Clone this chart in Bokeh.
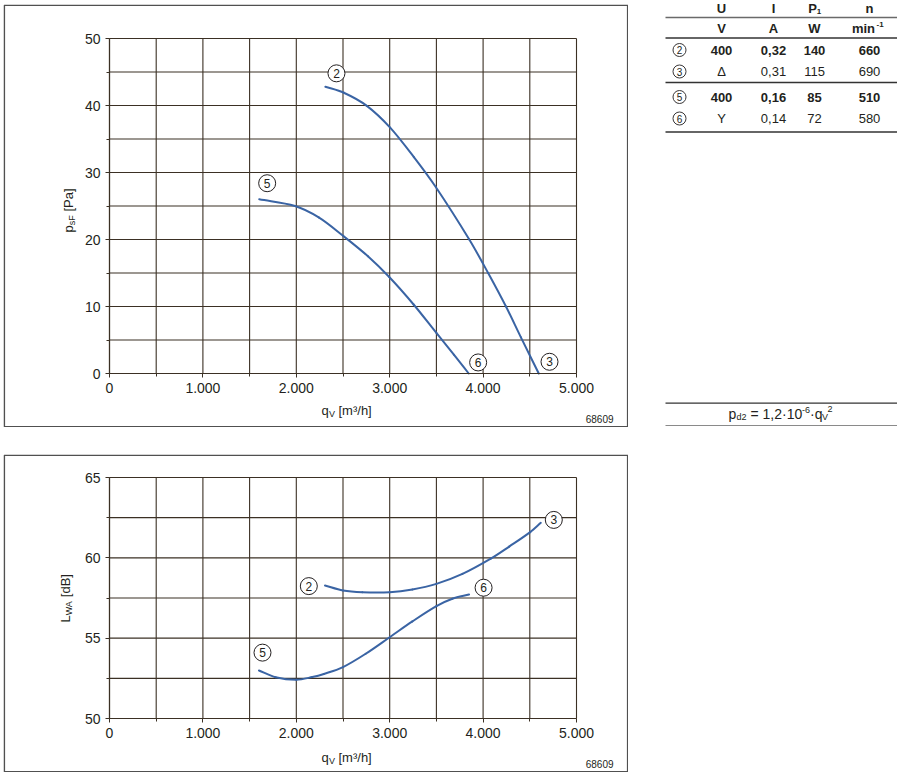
import math
from bokeh.plotting import figure
from bokeh.models import Range1d, FixedTicker, Label, BoxAnnotation
from bokeh.layouts import row, column
from bokeh.embed import file_html
from bokeh.resources import INLINE
from bokeh.core.properties import value

# ---------------- data ----------------
x_ticks = [0, 1000, 2000, 3000, 4000, 5000]
x_minor = [500, 1500, 2500, 3500, 4500]
x_tick_labels = ["0", "1.000", "2.000", "3.000", "4.000", "5.000"]

p_ticks = [0, 10, 20, 30, 40, 50]
p_minor = [5, 15, 25, 35, 45]
p_tick_labels = ["0", "10", "20", "30", "40", "50"]

L_ticks = [50, 55, 60, 65]
L_minor = [52.5, 57.5, 62.5]
L_tick_labels = ["50", "55", "60", "65"]

# pressure curves (q in m3/h, p in Pa)
q_curve_2_3 = [2311, 2509, 2755, 3005, 3259, 3495, 3852, 4054, 4245, 4405, 4596]
p_curve_2_3 = [42.8, 41.9, 39.95, 36.7, 32.3, 27.8, 20.0, 15.0, 10.0, 5.4, 0.0]
q_curve_5_6 = [1603, 1986, 2240, 2501, 2767, 2995, 3256, 3500, 3687, 3846]
p_curve_5_6 = [26.0, 25.0, 23.3, 20.55, 17.5, 14.4, 10.3, 6.05, 2.8, 0.0]

# sound power curves (q in m3/h, L in dB)
q_sound_2_3 = [2307, 2500, 2707, 3000, 3243, 3500, 3779, 4082, 4279, 4504, 4618]
L_sound_2_3 = [58.28, 57.97, 57.86, 57.86, 58.03, 58.38, 59.0, 59.95, 60.7, 61.6, 62.18]
q_sound_5_6 = [1600, 1779, 2000, 2171, 2295, 2500, 2743, 3000, 3243, 3500, 3671, 3850]
L_sound_5_6 = [52.99, 52.57, 52.41, 52.58, 52.77, 53.2, 54.03, 55.06, 56.04, 56.99, 57.45, 57.72]

# operating point markers
press_marks = ["2", "5", "6", "3"]
press_mark_q = [2430, 1688, 3947, 4711]
press_mark_p = [44.8, 28.4, 1.65, 1.75]
sound_marks = ["2", "3", "6", "5"]
sound_mark_q = [2134, 4757, 4005, 1638]
sound_mark_L = [58.24, 62.36, 58.14, 54.1]

# table
table_headers = ["U", "I", "P", "n"]
table_units = ["V", "A", "W", "min"]
table_marks = ["2", "3", "5", "6"]
table_U = ["400", "Δ", "400", "Y"]
table_I = ["0,32", "0,31", "0,16", "0,14"]
table_P = ["140", "115", "85", "72"]
table_n = ["660", "690", "510", "580"]
table_bold = [True, False, True, False]
drawing_no = "68609"

# ---------------- style ----------------
FONT = "Liberation Sans"
TXT = "#231f20"
GRID = "#3b3024"
CURVE = "#3a64a4"
BOX = "#505050"

FIG_W = 625
PAD_L, PAD_R = 106, 52          # pixels left / right of the plotting area
PAGE_LEFT = 3
X0, X1 = x_ticks[0], x_ticks[-1]


def make_chart(height, yt, ymin, ylabels, pad_top, pad_bottom):
    y0, y1 = yt[0], yt[-1]
    area_w = FIG_W - PAD_L - PAD_R
    area_h = height - pad_top - pad_bottom
    kx = (X1 - X0) / area_w
    ky = (y1 - y0) / area_h
    p = figure(width=FIG_W, height=height,
               x_range=Range1d(X0 - PAD_L * kx, X1 + PAD_R * kx),
               y_range=Range1d(y0 - pad_bottom * ky, y1 + pad_top * ky),
               output_backend="svg", toolbar_location=None,
               min_border=0, min_border_left=0, min_border_right=0,
               min_border_top=0, min_border_bottom=0)
    p.outline_line_color = None
    p.background_fill_color = "white"
    p.border_fill_color = "white"
    p.grid.visible = False
    # grid lines of the diagram
    xs_all = x_ticks + x_minor
    ys_all = yt + ymin
    p.segment(x0=xs_all, y0=[y0] * len(xs_all), x1=xs_all, y1=[y1] * len(xs_all),
              line_color=GRID, line_width=1.1)
    p.segment(x0=[X0] * len(ys_all), y0=ys_all, x1=[X1] * len(ys_all), y1=ys_all,
              line_color=GRID, line_width=1.1)
    # axes drawn at the diagram's edges
    p.xaxis.fixed_location = y0
    p.yaxis.fixed_location = X0
    p.xaxis.bounds = (X0, X1)
    p.yaxis.bounds = (y0, y1)
    p.xaxis.ticker = FixedTicker(ticks=x_ticks, minor_ticks=x_minor)
    p.yaxis.ticker = FixedTicker(ticks=yt, minor_ticks=ymin)
    p.xaxis.major_label_overrides = {t: s for t, s in zip(x_ticks, x_tick_labels)}
    p.yaxis.major_label_overrides = {t: s for t, s in zip(yt, ylabels)}
    for ax in (p.xaxis, p.yaxis):
        ax.axis_line_color = GRID
        ax.axis_line_width = 1.2
        ax.major_tick_line_color = GRID
        ax.minor_tick_line_color = GRID
        ax.major_tick_out = 4
        ax.major_tick_in = 0
        ax.minor_tick_out = 3
        ax.minor_tick_in = 0
        ax.major_label_text_font = FONT
        ax.major_label_text_font_size = "14px"
        ax.major_label_text_color = TXT
        ax.major_label_standoff = 5
    # outer frame of the panel
    p.add_layout(BoxAnnotation(left=0.8, right=FIG_W - 0.8, bottom=0.8, top=height - 0.8,
                               left_units="screen", right_units="screen",
                               bottom_units="screen", top_units="screen",
                               fill_color=None, fill_alpha=0, line_color=BOX, line_alpha=1.0,
                               line_width=1.6, level="overlay"))
    return p


def smooth_curve(p, qs, ys):
    # piecewise cubic (Hermite) through the read points, drawn as bezier segments
    n = len(qs)
    m = []
    for i in range(n):
        if i == 0:
            m.append((ys[1] - ys[0]) / (qs[1] - qs[0]))
        elif i == n - 1:
            m.append((ys[-1] - ys[-2]) / (qs[-1] - qs[-2]))
        else:
            m.append((ys[i + 1] - ys[i - 1]) / (qs[i + 1] - qs[i - 1]))
    x0, y0, x1, y1, cx0, cy0, cx1, cy1 = [], [], [], [], [], [], [], []
    for i in range(n - 1):
        h = qs[i + 1] - qs[i]
        x0.append(qs[i]); y0.append(ys[i])
        x1.append(qs[i + 1]); y1.append(ys[i + 1])
        cx0.append(qs[i] + h / 3); cy0.append(ys[i] + m[i] * h / 3)
        cx1.append(qs[i + 1] - h / 3); cy1.append(ys[i + 1] - m[i + 1] * h / 3)
    p.bezier(x0=x0, y0=y0, x1=x1, y1=y1, cx0=cx0, cy0=cy0, cx1=cx1, cy1=cy1,
             line_color=CURVE, line_width=2, line_cap="round")


def add_marks(p, xs, ys, labels):
    p.scatter(xs, ys, marker="circle", size=17, fill_color="white", line_color=TXT, line_width=1)
    p.text(xs, ys, text=labels, text_font=value(FONT), text_font_size="12px", text_color=TXT,
           text_align="center", text_baseline="middle")


def lab(p, fig_bottom, px, py, text, size="13px", angle=0.0, align="left"):
    # page pixel position -> screen units (origin at the canvas bottom-left)
    p.add_layout(Label(x=px - PAGE_LEFT, y=fig_bottom - py, x_units="screen", y_units="screen",
                       text=text, angle=angle, text_font=FONT, text_font_size=size,
                       text_color=TXT, text_align=align, text_baseline="middle"))


# ---------------- pressure chart ----------------
TOP_H = 423
top = make_chart(TOP_H, p_ticks, p_minor, p_tick_labels, 34, 54)
smooth_curve(top, q_curve_2_3, p_curve_2_3)
smooth_curve(top, q_curve_5_6, p_curve_5_6)
add_marks(top, press_mark_q, press_mark_p, press_marks)

TB = 4 + TOP_H
lab(top, TB, 321, 410, "q")
lab(top, TB, 328.5, 413, "V", size="9px")
lab(top, TB, 338, 410, "[m³/h]")
lab(top, TB, 613, 418, drawing_no, size="10px", align="right")
lab(top, TB, 68, 232, "p", angle=math.pi / 2)
lab(top, TB, 71, 224.8, "sF", size="9px", angle=math.pi / 2)
lab(top, TB, 68, 211, "[Pa]", angle=math.pi / 2)

# ---------------- sound chart ----------------
BOT_H = 318
GAP = 27
bot = make_chart(BOT_H, L_ticks, L_minor, L_tick_labels, 23, 54)
smooth_curve(bot, q_sound_2_3, L_sound_2_3)
smooth_curve(bot, q_sound_5_6, L_sound_5_6)
add_marks(bot, sound_mark_q, sound_mark_L, sound_marks)

BB = 4 + TOP_H + GAP + BOT_H
lab(bot, BB, 321, 757, "q")
lab(bot, BB, 328.5, 760, "V", size="9px")
lab(bot, BB, 338, 757, "[m³/h]")
lab(bot, BB, 613, 763, drawing_no, size="10px", align="right")
lab(bot, BB, 65, 622, "L", angle=math.pi / 2)
lab(bot, BB, 68, 614.8, "WA", size="9px", angle=math.pi / 2)
lab(bot, BB, 65, 596.7, "[dB]", angle=math.pi / 2)

# ---------------- table ----------------
tab = figure(width=269, height=434, x_range=Range1d(628, 897), y_range=Range1d(434, 0),
             output_backend="svg", toolbar_location=None,
             min_border=0, min_border_left=0, min_border_right=0, min_border_top=0, min_border_bottom=0)
tab.axis.visible = False
tab.grid.visible = False
tab.outline_line_color = None

col_x = [721, 773, 814, 869]
mark_x = 679
header_y = 8
unit_y = 28
row_y = [49.5, 71, 96.5, 118]
rule_y = [17, 37.5, 82, 131.5]
rule_col = ["#6a6a6a", "#333333", "#333333", "#333333"]

tab.segment(x0=[665] * 4, x1=[897] * 4, y0=rule_y, y1=rule_y, line_color=rule_col, line_width=1.3)

def ttext(xs, ys, texts, bold=False, size="13px", align="center"):
    tab.text(xs, ys, text=texts, text_font=value(FONT), text_font_size=size, text_color=TXT,
             text_align=align, text_baseline="middle", text_font_style="bold" if bold else "normal")

ttext([721, 773, 812, 869], [header_y] * 4, table_headers, bold=True)
ttext([818.5], [header_y + 3], ["1"], bold=True, size="8px")
ttext([721, 773, 814], [unit_y] * 3, table_units[:3], bold=True)
ttext([863], [unit_y], [table_units[3]], bold=True)
ttext([876], [unit_y - 4], ["-1"], bold=True, size="8px", align="left")

tab.scatter([mark_x] * 4, row_y, marker="circle", size=13, fill_color="white", line_color=TXT, line_width=0.9)
ttext([mark_x] * 4, row_y, table_marks, size="10px")
for i in range(4):
    ttext(col_x, [row_y[i]] * 4, [table_U[i], table_I[i], table_P[i], table_n[i]], bold=table_bold[i])

# formula p_d2 = 1,2·10^-6·q_V^2
form_y = 413
tab.segment(x0=[665, 665], x1=[897, 897], y0=[402.7, 425], y1=[402.7, 425],
            line_color=["#333333", "#8a8a8a"], line_width=1.2)
ttext([728], [form_y], ["p"], size="14px", align="left")
ttext([736], [form_y + 3.5], ["d2"], size="9px", align="left")
ttext([750], [form_y], ["= 1,2·10"], size="14px", align="left")
ttext([801.5], [form_y - 4], ["-6"], size="9px", align="left")
ttext([809.5], [form_y], ["·q"], size="14px", align="left")
ttext([821.5], [form_y + 3.5], ["V"], size="9px", align="left")
ttext([827], [form_y - 5], ["2"], size="9px", align="left")

left = column(top, bot, spacing=GAP)
left.styles = {"margin-top": "4px"}
root = row(left, tab, spacing=0)
root.styles = {"margin": "0px 0px 0px 3px"}

open("out.html", "w").write(file_html(root, INLINE))
